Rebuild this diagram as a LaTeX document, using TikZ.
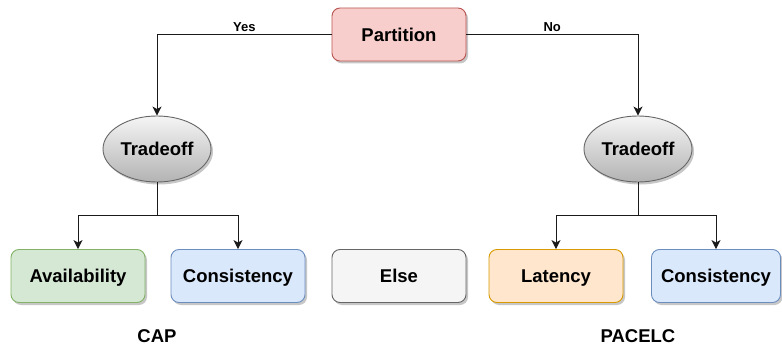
\documentclass[tikz,border=0pt]{standalone}
\usepackage{fontspec}
\setmainfont{Liberation Sans}
\usetikzlibrary{arrows.meta,shadows,shapes.geometric}
\definecolor{partfill}{HTML}{F8CECC}\definecolor{partline}{HTML}{B85450}
\definecolor{availfill}{HTML}{D5E8D4}\definecolor{availline}{HTML}{82B366}
\definecolor{consfill}{HTML}{DAE8FC}\definecolor{consline}{HTML}{6C8EBF}
\definecolor{elsefill}{HTML}{F5F5F5}\definecolor{elseline}{HTML}{666666}
\definecolor{latfill}{HTML}{FFE6CC}\definecolor{latline}{HTML}{D79B00}
\definecolor{ovaltop}{HTML}{F5F5F5}\definecolor{ovalbot}{HTML}{B3B3B3}
\definecolor{wire}{HTML}{1A1A1A}
\tikzset{
  soft/.style={drop shadow={shadow xshift=2pt,shadow yshift=-2.5pt,opacity=0.22,fill=black}},
  bigtext/.style={font=\bfseries\fontsize{18.5}{20}\selectfont,text height=13.3pt,text depth=0pt},
  card/.style={rectangle,rounded corners=8pt,minimum width=134pt,minimum height=53pt,
    line width=0.9pt,soft,bigtext,inner sep=0pt},
  oval/.style={ellipse,minimum width=108pt,minimum height=66pt,draw=elseline,line width=0.9pt,
    top color=ovaltop,bottom color=ovalbot,soft,inner sep=0pt,bigtext},
  wirearrow/.style={draw=wire,line width=1pt,-{Stealth[length=9pt,width=9pt,inset=2.5pt]}},
  wireline/.style={draw=wire,line width=1pt},
  branch/.style={font=\bfseries\fontsize{13}{14}\selectfont,inner sep=1pt},
  caption/.style={bigtext,inner sep=0pt}
}
\begin{document}
\begin{tikzpicture}[x=1pt,y=-1pt]
\useasboundingbox (0,0) rectangle (782,345);
% root decision
\node[card,fill=partfill,draw=partline] (part) at (399,34.5) {Partition};
% tradeoff ovals
\node[oval] (tl) at (157,149) {Tradeoff};
\node[oval] (tr) at (638,149) {Tradeoff};
% outcome cards
\node[card,fill=availfill,draw=availline] (avail) at (78,276) {Availability};
\node[card,fill=consfill,draw=consline] (cons1) at (238,276) {Consistency};
\node[card,fill=elsefill,draw=elseline] (else) at (399,276) {Else};
\node[card,fill=latfill,draw=latline] (lat) at (556,276) {Latency};
\node[card,fill=consfill,draw=consline,minimum width=129pt] (cons2) at (716,276) {Consistency};
% captions
\node[caption] (cap) at (157,336) {CAP};
\node[caption] (pacelc) at (638,336) {PACELC};
% junction points under the ovals
\coordinate (jl) at (157,215);
\coordinate (jr) at (638,215);
% connectors
\draw[wirearrow] (part.west) -| node[branch,pos=0.25,above=1pt] (yes) {Yes} (tl.north);
\draw[wirearrow] (part.east) -| node[branch,pos=0.25,above=1pt] (no) {No} (tr.north);
\draw[wireline] (tl.south) -- (jl);
\draw[wireline] (tr.south) -- (jr);
\draw[wirearrow] (jl) -| (avail.north);
\draw[wirearrow] (jl) -| (cons1.north);
\draw[wirearrow] (jr) -| (lat.north);
\draw[wirearrow] (jr) -| (cons2.north);
\end{tikzpicture}
\end{document}
